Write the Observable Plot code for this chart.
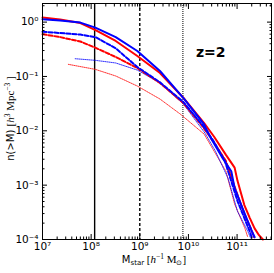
<!DOCTYPE html>
<html><head><meta charset="utf-8">
<script src="https://cdn.jsdelivr.net/npm/d3@7"></script>
<script src="https://cdn.jsdelivr.net/npm/@observablehq/plot@0.6"></script>
<style>body{margin:0;background:#fff} svg{display:block}</style>
</head><body><div id="chart"></div>
<script>
// ---- data ----
const redSolidM = [1e7, 2.3e7, 6e7, 1.23e8, 3.2e8, 8.9e8, 2.6e9, 8.3e9, 2.1e10, 3.4e10, 5.9e10, 8.9e10, 1.02e11, 1.41e11, 1.82e11, 2.29e11, 2.82e11, 3.4e11];
const redSolidN = [1.21, 1.12, 0.96, 0.71, 0.45, 0.238, 0.116, 0.0384, 0.0139, 0.0077, 0.0036, 0.0021, 0.0012, 4.3e-4, 2.5e-4, 1.6e-4, 1.2e-4, 1.0e-4];

const blueSolidM = [1e7, 2.3e7, 6e7, 1.22e8, 3.2e8, 8.9e8, 2.6e9, 8.3e9, 2.1e10, 2.9e10, 5.1e10, 7.6e10, 8.9e10, 1.22e11, 1.66e11, 2.1e11, 2.3e11];
const blueSolidN = [1.13, 1.07, 0.98, 0.79, 0.53, 0.294, 0.126, 0.0379, 0.0131, 0.0073, 0.0031, 0.0018, 8.8e-4, 4.3e-4, 2.15e-4, 1.3e-4, 1.1e-4];

const redDashedM = [1e7, 2.3e7, 6e7, 1.22e8, 3.2e8, 8.9e8, 2.6e9, 7.9e9, 2.0e10, 3.2e10, 5.9e10, 8.1e10, 1.1e11, 1.45e11, 1.95e11, 2.24e11];
const redDashedN = [0.60, 0.53, 0.44, 0.338, 0.228, 0.143, 0.0758, 0.0324, 0.0117, 0.0065, 0.00277, 0.00119, 5.5e-4, 2.8e-4, 1.55e-4, 1.1e-4];

const blueDashedM = [1e7, 2.3e7, 6e7, 1.22e8, 3.2e8, 8.9e8, 2.6e9, 7.9e9, 2.0e10, 3.2e10, 5.6e10, 7.8e10, 1.02e11, 1.38e11, 1.82e11, 2.0e11];
const blueDashedN = [0.665, 0.63, 0.59, 0.53, 0.33, 0.149, 0.078, 0.0338, 0.0123, 0.0067, 0.0028, 0.00109, 5.1e-4, 2.6e-4, 1.4e-4, 1.1e-4];

const blueDottedM = [4.7e7, 1.22e8, 3.2e8, 8.9e8, 2.6e9, 7.9e9, 2.2e10, 3.6e10, 6.5e10, 1.02e11, 1.66e11, 1.9e11];
const blueDottedN = [0.212, 0.198, 0.177, 0.131, 0.0758, 0.031, 0.009, 0.0042, 0.00135, 3.3e-4, 1.42e-4, 1.06e-4];

const redDottedM = [3.4e7, 1.22e8, 3.2e8, 8.9e8, 2.6e9, 6.8e9, 2.1e10, 5.9e10, 8.9e10, 1.45e11, 1.66e11];
const redDottedN = [0.167, 0.135, 0.102, 0.0666, 0.0384, 0.0203, 0.0087, 0.0018, 4.5e-4, 1.6e-4, 1.1e-4];

const massCuts = [1.18e8, 1e9, 7.7e9];   // solid, dashed, dotted vertical lines
const xMajor = [1e7, 1e8, 1e9, 1e10, 1e11];
const yMajor = [1e-4, 1e-3, 1e-2, 1e-1, 1];
const minorFactors = [2, 3, 4, 5, 6, 7, 8, 9];
const annotation = "z=2";
const xLabel = "M_star [h^-1 M_sun]";
const yLabel = "n(>M) [h^3 Mpc^-3]";

// ---- build tables ----
const rows = (M, N) => M.map((m, i) => ({M: m, n: N[i]}));
const xMinor = xMajor.flatMap(d => minorFactors.map(f => d * f)).filter(v => v < 5.1e11);
const yMinor = yMajor.flatMap(d => minorFactors.map(f => d * f)).filter(v => v < 2.2);
const supMap = {"0":"⁰","1":"¹","2":"²","3":"³","4":"⁴","5":"⁵","6":"⁶","7":"⁷","8":"⁸","9":"⁹","-":"⁻"};
const fmt = d => "10" + String(Math.round(Math.log10(d))).split("").map(c => supMap[c]).join("");

const font = "DejaVu Sans";
const plot = Plot.plot({
  width: 274, height: 273,
  marginLeft: 42, marginRight: 3, marginTop: 3, marginBottom: 34,
  style: {fontFamily: font, fontSize: "10px", color: "black", background: "white"},
  x: {type: "log", domain: [1e7, 5.1e11]},
  y: {type: "log", domain: [1e-4, 2.2]},
  marks: [
    Plot.ruleX([massCuts[0]], {stroke: "black", strokeWidth: 1.4}),
    Plot.ruleX([massCuts[1]], {stroke: "black", strokeWidth: 1.4, strokeDasharray: "3,2"}),
    Plot.ruleX([massCuts[2]], {stroke: "black", strokeWidth: 1, strokeDasharray: "1,1"}),
    Plot.line(rows(redDottedM, redDottedN), {x: "M", y: "n", stroke: "#ff0000", strokeWidth: 1, strokeDasharray: "1,1", strokeOpacity: 0.8}),
    Plot.line(rows(blueDottedM, blueDottedN), {x: "M", y: "n", stroke: "#0000ff", strokeWidth: 1, strokeDasharray: "1,1", strokeOpacity: 0.8}),
    Plot.line(rows(redDashedM, redDashedN), {x: "M", y: "n", stroke: "#ff0000", strokeWidth: 2, strokeDasharray: "4,2"}),
    Plot.line(rows(blueDashedM, blueDashedN), {x: "M", y: "n", stroke: "#0000ff", strokeWidth: 2, strokeDasharray: "4,2"}),
    Plot.line(rows(redSolidM, redSolidN), {x: "M", y: "n", stroke: "#ff0000", strokeWidth: 2}),
    Plot.line(rows(blueSolidM, blueSolidN), {x: "M", y: "n", stroke: "#0000ff", strokeWidth: 2}),
    Plot.frame({stroke: "black", strokeWidth: 1}),
    // x ticks (inward, bottom and top)
    Plot.axisX(xMajor, {anchor: "bottom", tickSize: -5, tickFormat: () => "", label: null}),
    Plot.axisX(xMinor, {anchor: "bottom", tickSize: -2.5, tickFormat: () => "", label: null}),
    Plot.axisX(xMajor, {anchor: "top", tickSize: -5, tickFormat: () => "", label: null}),
    Plot.axisX(xMinor, {anchor: "top", tickSize: -2.5, tickFormat: () => "", label: null}),
    Plot.axisX(xMajor, {anchor: "bottom", tickSize: 0, tickPadding: 3, tickFormat: fmt, fontSize: 10.5, label: null}),
    // y ticks (inward, left and right)
    Plot.axisY(yMajor, {anchor: "left", tickSize: -5, tickFormat: () => "", label: null}),
    Plot.axisY(yMinor, {anchor: "left", tickSize: -2.5, tickFormat: () => "", label: null}),
    Plot.axisY(yMajor, {anchor: "right", tickSize: -5, tickFormat: () => "", label: null}),
    Plot.axisY(yMinor, {anchor: "right", tickSize: -2.5, tickFormat: () => "", label: null}),
    Plot.axisY(yMajor, {anchor: "left", tickSize: 0, tickPadding: 4, tickFormat: fmt, fontSize: 10.5, label: null}),
    Plot.text([annotation], {frameAnchor: "top-right", dx: -46, dy: 44, fontSize: 14, fontWeight: "bold", text: d => d}),
    Plot.text([xLabel], {frameAnchor: "bottom", dy: 23, dx: -3, textAnchor: "middle", fontSize: 10, text: d => d}),
    Plot.text([yLabel], {frameAnchor: "left", dx: -32, dy: -3, rotate: -90, textAnchor: "middle", fontSize: 10, text: d => d})
  ]
});
document.getElementById("chart").appendChild(plot);

// rich text for the axis titles (sub/superscripts, math font)
function rich(str, parts) {
  const el = Array.from(plot.querySelectorAll("text")).find(t => t.textContent === str);
  if (!el) return;
  el.textContent = "";
  const ns = "http://www.w3.org/2000/svg";
  for (const p of parts) {
    const ts = document.createElementNS(ns, "tspan");
    ts.textContent = p.t;
    if (p.serif) ts.setAttribute("font-family", "Liberation Serif");
    if (p.italic) ts.setAttribute("font-style", "italic");
    if (p.size) ts.setAttribute("font-size", p.size);
    if (p.dy) ts.setAttribute("dy", p.dy);
    el.appendChild(ts);
  }
}
rich(yLabel, [
  {t: "n(>M) "},
  {t: "[", serif: true, size: 11},
  {t: "h", serif: true, italic: true, size: 11},
  {t: "3", serif: true, size: 7.5, dy: -4},
  {t: " Mpc", serif: true, size: 11, dy: 4},
  {t: "−3", serif: true, size: 7.5, dy: -4},
  {t: " ]", serif: true, size: 11, dy: 4}
]);
rich(xLabel, [
  {t: "M"},
  {t: "star", size: 7, dy: 2},
  {t: " [", serif: true, size: 11, dy: -2},
  {t: "h", serif: true, italic: true, size: 11},
  {t: "−1", serif: true, size: 7.5, dy: -4},
  {t: " M", serif: true, size: 11, dy: 4},
  {t: "⊙", serif: true, size: 7, dy: 2},
  {t: "]", serif: true, size: 11, dy: -2}
]);
</script>
</body></html>
